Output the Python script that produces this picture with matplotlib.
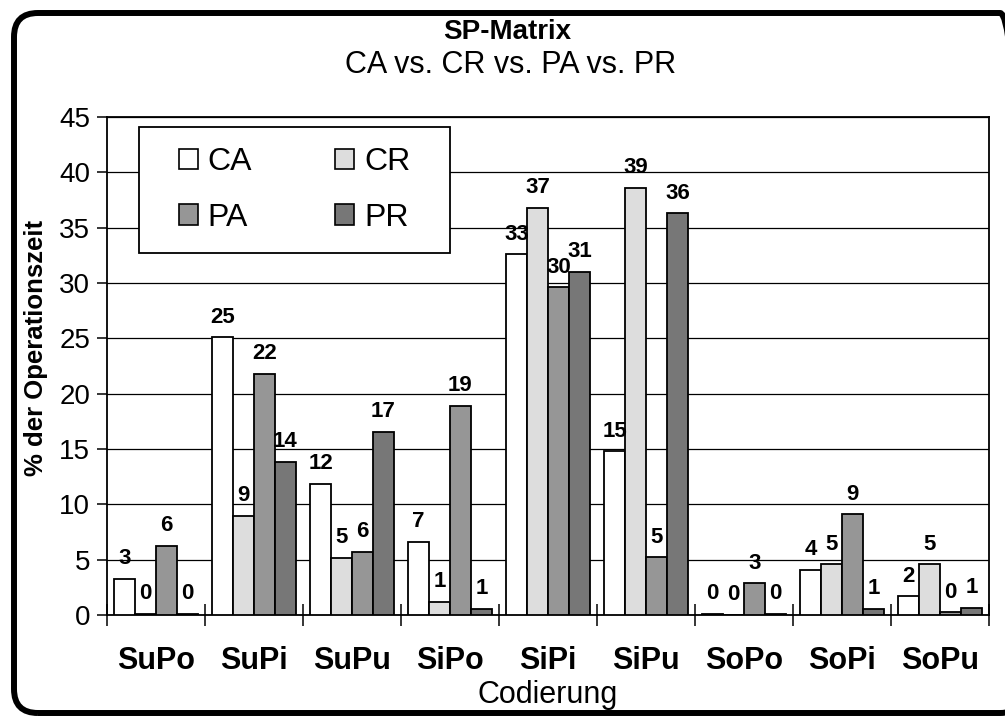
import matplotlib
matplotlib.use("Agg")
import matplotlib.pyplot as plt
import numpy as np
from matplotlib.patches import FancyBboxPatch, Rectangle, Patch
from matplotlib.transforms import IdentityTransform

plt.rcParams["font.family"] = ["Liberation Sans", "DejaVu Sans"]

# data (% der Operationszeit)
categories = ["SuPo", "SuPi", "SuPu", "SiPo", "SiPi", "SiPu", "SoPo", "SoPi", "SoPu"]
series = ["CA", "CR", "PA", "PR"]
ca = [3.25, 25.1, 11.86, 6.6, 32.6, 14.8, 0.1, 4.07, 1.7]
cr = [0.1, 8.97, 5.15, 1.2, 36.8, 38.6, 0.0, 4.6, 4.6]
pa = [6.26, 21.8, 5.72, 18.9, 29.6, 5.2, 2.86, 9.1, 0.25]
pr = [0.1, 13.85, 16.56, 0.55, 31.0, 36.3, 0.1, 0.55, 0.65]
colors = ["#ffffff", "#dddddd", "#969696", "#777777"]

fig = plt.figure(figsize=(10.05, 7.17), dpi=100)
ax = fig.add_axes([107 / 1005, 1 - 615 / 717, 882 / 1005, 498 / 717])

x = np.arange(len(categories))
w = 0.214
for j, vals in enumerate([ca, cr, pa, pr]):
    pos = x + (j - 1.5) * w
    ax.bar(pos, vals, width=w, color=colors[j], edgecolor="black",
           linewidth=1.3, zorder=3, label=series[j])
    for px, v in zip(pos, vals):
        ax.annotate("%.0f" % v, (px, v), xytext=(0, 10.5),
                    textcoords="offset points", ha="center", va="baseline",
                    fontsize=16, fontweight="bold", zorder=4)

ax.set_xlim(-0.5, len(categories) - 0.5)
ax.set_ylim(0, 45)
ax.set_yticks(np.arange(0, 46, 5))
ax.yaxis.grid(True, color="black", linewidth=0.9, zorder=0)
ax.set_axisbelow(True)

ax.set_xticks(x)
ax.set_xticklabels(categories, fontsize=22, fontweight="bold")
ax.set_xticks(np.arange(-0.5, len(categories)), minor=True)
ax.tick_params(axis="x", which="major", length=0, pad=22)
ax.tick_params(axis="x", which="minor", direction="inout", length=16, width=1.1)
ax.tick_params(axis="y", direction="out", length=7, width=1.1, labelsize=20, pad=5)

for s in ax.spines.values():
    s.set_linewidth(1.3)
    s.set_color("black")

ax.set_ylabel("% der Operationszeit", fontsize=18.5, fontweight="bold")
ax.yaxis.label.set_va("center")
ax.yaxis.set_label_coords(-0.0805, 0.536)
ax.set_xlabel("Codierung", fontsize=22)
ax.xaxis.label.set_va("center")
ax.xaxis.set_label_coords(0.5, -0.1606)

# legend box
ax.add_patch(Rectangle((32 / 882, 362 / 498), 311 / 882, 126 / 498,
                       transform=ax.transAxes, facecolor="white",
                       edgecolor="black", linewidth=1.3, zorder=4.5,
                       clip_on=False))
handles = [Patch(facecolor=colors[i], edgecolor="black", linewidth=1.2)
           for i in range(4)]
order = [0, 2, 1, 3]
ax.legend([handles[i] for i in order], [series[i] for i in order],
          ncol=2, loc="center", bbox_to_anchor=(187.5 / 882, 425 / 498),
          frameon=False, fontsize=23, handlelength=0.6, handleheight=0.6,
          handletextpad=0.3, columnspacing=2.6, labelspacing=0.8)

fig.text(507 / 1005, 1 - 32 / 717, "SP-Matrix", ha="center", va="center",
         fontsize=20, fontweight="bold")
fig.text(511 / 1005, 1 - 65 / 717, "CA vs. CR vs. PA vs. PR", ha="center",
         va="center", fontsize=22)

# outer rounded frame
frame = FancyBboxPatch((14, 4), 1010, 700,
                       boxstyle="round,pad=0,rounding_size=24",
                       transform=IdentityTransform(), facecolor="none",
                       edgecolor="black", linewidth=4.3)
fig.add_artist(frame)

fig.savefig("out.png", dpi=100)
